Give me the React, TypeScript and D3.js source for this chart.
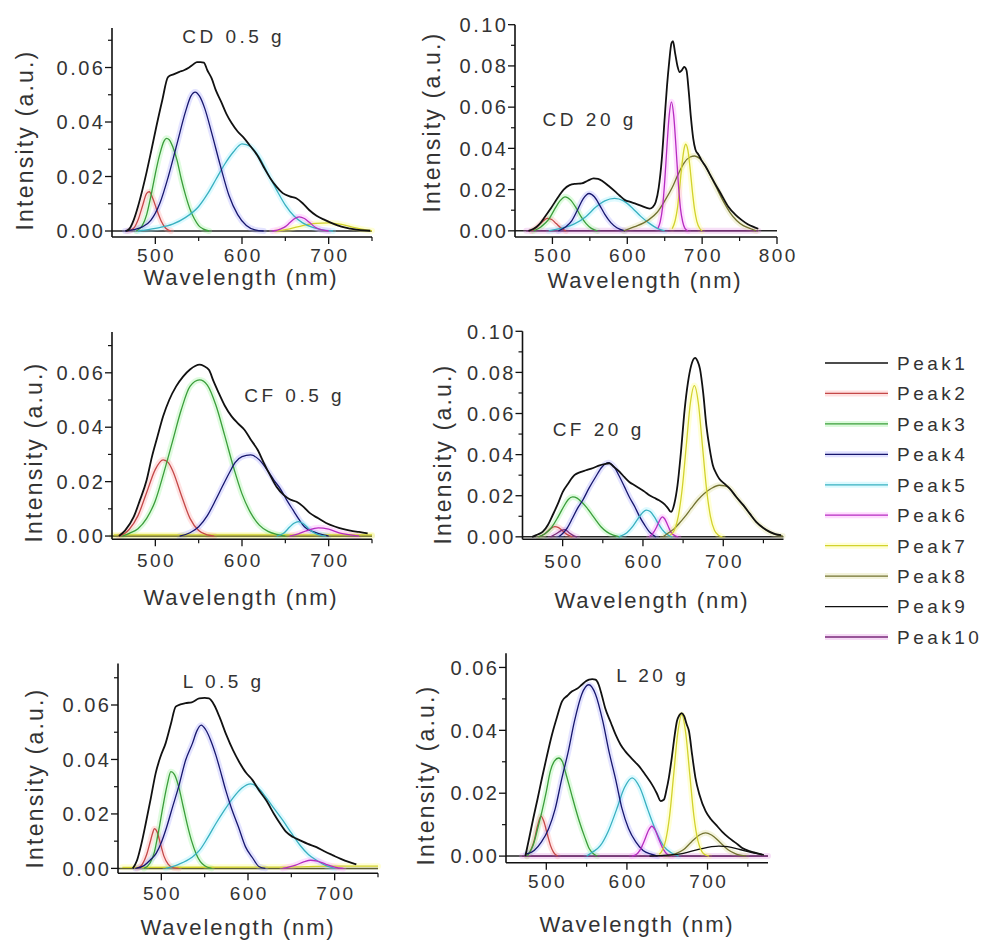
import React from "react";
import * as d3 from "d3";

type Pt = [number, number];

// ---------- legend ----------
const peakNames = ["Peak1", "Peak2", "Peak3", "Peak4", "Peak5", "Peak6", "Peak7", "Peak8", "Peak9", "Peak10"];

// ---------- CD 0.5 g ----------
const cd05Peak1: Pt[] = [[466,0],[470,0.0008],[475,0.004],[480,0.009],[485,0.015],[490,0.0217],[495,0.029],[501.5,0.0388],[508,0.048],[514.6,0.0565],[521,0.0575],[527.7,0.0584],[533,0.059],[539,0.060],[544,0.0612],[548,0.062],[552,0.062],[556,0.0618],[560,0.059],[565,0.056],[570,0.0515],[576,0.0474],[582,0.043],[588,0.0396],[595,0.0365],[602.6,0.034],[610,0.031],[617.6,0.0278],[625,0.0235],[632.6,0.0194],[640,0.0162],[647,0.0139],[655,0.0127],[662.6,0.012],[670,0.0102],[677.5,0.0077],[686,0.0056],[696,0.004],[705,0.0027],[714.6,0.0016],[725,0.0009],[737,0.0003],[748,0.0001]];
const cd05Peak2: Pt[] = [[468,0],[475,0.001],[480,0.004],[485,0.009],[490,0.0138],[493,0.0144],[497,0.012],[502,0.0075],[507,0.0035],[512,0.001],[518,0]];
const cd05Peak3: Pt[] = [[478,0],[485,0.002],[490,0.006],[495,0.013],[500,0.021],[505,0.028],[510,0.033],[513,0.034],[516,0.0335],[520,0.031],[525,0.026],[530,0.019],[535,0.013],[540,0.008],[545,0.0045],[550,0.002],[555,0.0008],[562,0]];
const cd05Peak4: Pt[] = [[465,0],[475,0.0005],[485,0.0015],[495,0.004],[505,0.010],[515,0.020],[525,0.032],[535,0.044],[541,0.0495],[546,0.051],[551,0.0495],[557,0.045],[565,0.036],[575,0.024],[585,0.013],[595,0.006],[605,0.002],[615,0.0004],[625,0]];
const cd05Peak5: Pt[] = [[480,0],[500,0.001],[520,0.0025],[535,0.005],[550,0.009],[560,0.0135],[570,0.019],[580,0.0245],[590,0.029],[600,0.032],[610,0.031],[620,0.027],[630,0.021],[640,0.015],[650,0.0095],[660,0.0055],[670,0.003],[680,0.0015],[690,0.0006],[705,0]];
const cd05Peak6: Pt[] = [[635,0],[645,0.0008],[650,0.0016],[655,0.003],[660,0.0044],[666,0.0052],[672,0.0046],[678,0.0031],[685,0.0013],[692,0.0004],[700,0]];
const cd05Peak7: Pt[] = [[640,0],[655,0.0008],[670,0.002],[685,0.0028],[700,0.003],[715,0.0024],[730,0.0012],[745,0.0003],[750,0.0001]];

// ---------- CD 20 g ----------
const cd20Peak1: Pt[] = [[468,0],[475,0.001],[482,0.003],[490,0.0068],[498,0.011],[508,0.0165],[515,0.020],[523,0.0222],[531,0.0228],[539,0.023],[547,0.0243],[555,0.0254],[561,0.0252],[568,0.0238],[576,0.0215],[584,0.019],[590,0.017],[597,0.0149],[604,0.014],[610,0.0133],[618,0.0122],[625,0.0112],[630,0.0108],[634,0.0115],[638,0.014],[642,0.021],[646,0.0343],[650,0.055],[653,0.070],[656,0.082],[659,0.091],[661,0.092],[664,0.086],[667,0.080],[670,0.077],[673,0.078],[676,0.0795],[679,0.078],[682,0.068],[685,0.055],[688,0.045],[691,0.0395],[695,0.037],[699,0.0343],[705,0.031],[711,0.027],[717,0.023],[725,0.018],[735,0.0117],[744,0.008],[753,0.0052],[761,0.0032],[768,0.002],[775,0.001]];
const cd20Peak2: Pt[] = [[472,0],[480,0.002],[487,0.0045],[493,0.006],[499,0.0055],[505,0.0035],[511,0.0015],[518,0]];
const cd20Peak3: Pt[] = [[475,0],[485,0.002],[495,0.0055],[503,0.0105],[510,0.0145],[517,0.0165],[524,0.015],[531,0.0115],[538,0.007],[545,0.0035],[552,0.0012],[560,0]];
const cd20Peak4: Pt[] = [[508,0],[518,0.002],[526,0.005],[534,0.0105],[541,0.0155],[549,0.0181],[556,0.0165],[563,0.0125],[570,0.008],[578,0.004],[586,0.0015],[597,0]];
const cd20Peak5: Pt[] = [[495,0],[515,0.0015],[530,0.0035],[545,0.007],[558,0.0115],[570,0.0145],[583,0.0157],[595,0.0145],[607,0.011],[618,0.007],[630,0.0035],[640,0.0012],[650,0]];
const cd20Peak6: Pt[] = [[641,0.0012],[644,0.0044],[647,0.011],[650,0.024],[653,0.041],[656,0.056],[659,0.0626],[662,0.056],[665,0.041],[668,0.024],[671,0.011],[674,0.0044],[677,0.0012],[681,0]];
const cd20Peak7: Pt[] = [[660,0.001],[664,0.005],[667,0.011],[670,0.021],[673,0.032],[676,0.040],[678,0.042],[681,0.039],[684,0.030],[687,0.019],[690,0.010],[693,0.0045],[697,0.001],[700,0]];
const cd20Peak8: Pt[] = [[595,0],[610,0.002],[628,0.0052],[640,0.009],[650,0.0145],[660,0.021],[668,0.0275],[676,0.033],[684,0.0358],[690,0.0363],[697,0.035],[705,0.031],[712,0.026],[719,0.021],[728,0.0145],[737,0.009],[746,0.005],[755,0.0025],[765,0.001],[772,0]];
const cd20Peak10: Pt[] = [[465,0],[775,0]];

// ---------- CF 0.5 g ----------
const cf05Peak1: Pt[] = [[458,0],[465,0.002],[475,0.007],[482,0.013],[490,0.0206],[496,0.029],[502,0.036],[509,0.044],[516,0.050],[524,0.055],[532,0.0586],[540,0.0612],[546,0.0625],[551,0.063],[556,0.0625],[562,0.061],[567,0.057],[573,0.0527],[580,0.048],[588,0.044],[595,0.0415],[603,0.039],[610,0.0355],[618,0.0317],[625,0.027],[633,0.022],[640,0.018],[648,0.0151],[655,0.0135],[663,0.0126],[670,0.011],[678,0.0085],[688,0.0065],[697,0.0048],[707,0.0035],[716,0.0026],[725,0.002],[735,0.0015],[745,0.001]];
const cf05Peak2: Pt[] = [[458,0],[465,0.001],[470,0.0025],[480,0.0075],[490,0.016],[500,0.0245],[509,0.028],[515,0.027],[520,0.024],[530,0.015],[540,0.0065],[550,0.002],[560,0.0004],[568,0]];
const cf05Peak3: Pt[] = [[462,0],[470,0.001],[480,0.0027],[490,0.0065],[500,0.013],[510,0.0235],[520,0.035],[530,0.0465],[540,0.055],[551,0.0574],[560,0.0555],[570,0.048],[580,0.037],[590,0.0255],[600,0.0155],[610,0.0085],[620,0.004],[630,0.0017],[640,0.0006],[650,0]];
const cf05Peak4: Pt[] = [[528,0],[540,0.0012],[550,0.0034],[560,0.0075],[570,0.0135],[577,0.018],[585,0.023],[592,0.027],[600,0.0292],[610,0.0298],[620,0.028],[629,0.0243],[637,0.0205],[645,0.017],[652,0.013],[660,0.009],[666,0.006],[672,0.0034],[683,0.0015],[695,0.0003],[700,0]];
const cf05Peak5: Pt[] = [[640,0],[648,0.001],[655,0.0033],[660,0.0047],[665,0.0053],[670,0.0047],[676,0.003],[683,0.0012],[690,0.0003],[697,0]];
const cf05Peak6: Pt[] = [[655,0],[665,0.0008],[675,0.002],[688,0.003],[700,0.0025],[712,0.0012],[725,0.0004],[735,0]];
const cf05Peak7: Pt[] = [[452,0.0004],[750,0.0004]];
const cf05Peak8: Pt[] = [[450,0],[750,0]];

// ---------- CF 20 g ----------
const cf20Peak1: Pt[] = [[462,0],[468,0.001],[475,0.0024],[482,0.006],[487.5,0.0105],[494,0.016],[500,0.0218],[507,0.026],[514.6,0.030],[522,0.0315],[529,0.0324],[538,0.0335],[546,0.0348],[552,0.0354],[558,0.0358],[564,0.034],[571,0.0316],[577,0.029],[583,0.0267],[590,0.025],[596,0.0235],[602,0.022],[608,0.0202],[614,0.019],[620,0.0178],[627,0.0158],[631,0.014],[635,0.0121],[639,0.016],[643,0.025],[647,0.040],[652,0.0623],[656,0.075],[660,0.0833],[665,0.0871],[668,0.0855],[671,0.0817],[675,0.070],[679,0.054],[683,0.043],[687,0.0348],[691,0.031],[695,0.0283],[701,0.026],[708,0.0235],[716,0.0195],[725,0.0154],[733,0.0113],[741,0.0073],[750,0.0043],[758,0.0024],[765,0.0013],[772,0.0008]];
const cf20Peak2: Pt[] = [[470,0],[478,0.0015],[485,0.004],[490,0.005],[495,0.0045],[501,0.0025],[507,0.0008],[512,0]];
const cf20Peak3: Pt[] = [[470,0],[478,0.0015],[486,0.0045],[494,0.0095],[501,0.0145],[507,0.0182],[512.5,0.0194],[518,0.0188],[524,0.0168],[530,0.0142],[536,0.011],[542,0.0078],[548,0.0048],[555,0.0024],[563,0.0008],[571,0]];
const cf20Peak4: Pt[] = [[495,0],[500,0.0016],[506,0.0045],[512,0.0089],[518,0.0135],[525,0.0178],[533,0.0238],[541,0.0291],[549,0.034],[557,0.0361],[564,0.034],[571,0.0291],[577,0.0243],[583,0.0194],[590,0.0145],[596,0.0097],[602,0.0058],[608,0.0024],[616,0]];
const cf20Peak5: Pt[] = [[570,0],[580,0.002],[588,0.0055],[595,0.0095],[600,0.012],[604,0.013],[609,0.0123],[614,0.0098],[619,0.0065],[624,0.0035],[630,0.0012],[636,0]];
const cf20Peak6: Pt[] = [[608,0],[613,0.002],[617,0.0048],[621,0.0082],[624,0.0097],[627,0.0088],[631,0.0055],[635,0.0022],[640,0.0005],[644,0]];
const cf20Peak7: Pt[] = [[634,0.0008],[639,0.0032],[644,0.010],[649,0.0239],[654,0.0446],[659,0.065],[664,0.0736],[669,0.065],[674,0.0446],[679,0.0239],[684,0.010],[689,0.0032],[694,0.0008],[699,0]];
const cf20Peak8: Pt[] = [[625,0],[632,0.002],[639,0.004],[645,0.0065],[652,0.0097],[660,0.0138],[668,0.0178],[676,0.021],[685,0.0235],[695,0.0251],[702,0.0248],[709,0.0232],[716,0.0195],[725,0.0152],[733,0.0112],[741,0.0072],[750,0.0042],[758,0.0022],[766,0.001],[774,0.0004]];
const cf20Peak10: Pt[] = [[485,0],[492,0.0015],[498,0.003],[503,0.0035],[508,0.002],[514,0.0005],[518,0]];

// ---------- L 0.5 g ----------
const l05Peak1: Pt[] = [[467,0],[472,0.003],[477,0.009],[482,0.0165],[488,0.026],[493.5,0.035],[499,0.041],[505,0.046],[511,0.053],[516.6,0.0594],[522,0.0602],[528,0.0607],[535,0.061],[543.7,0.0624],[550,0.0626],[555,0.0624],[561,0.060],[567,0.0557],[575,0.049],[582.7,0.0434],[590,0.039],[598,0.035],[605,0.0325],[613,0.0285],[621,0.025],[630,0.020],[637,0.0165],[644,0.0134],[652,0.0115],[660,0.0103],[669,0.009],[679,0.0078],[688,0.0063],[698,0.0048],[707,0.0035],[717,0.0023],[725,0.0015]];
const l05Peak2: Pt[] = [[472,0],[478,0.0015],[483,0.005],[487,0.0095],[490,0.013],[492,0.0146],[495,0.0135],[499,0.009],[503,0.0045],[508,0.0015],[514,0.0002],[520,0]];
const l05Peak3: Pt[] = [[480,0],[487,0.002],[492,0.006],[497,0.014],[502,0.023],[507,0.031],[511,0.0355],[515,0.0345],[520,0.030],[525,0.023],[530,0.016],[535,0.010],[540,0.0055],[545,0.0025],[550,0.001],[558,0]];
const l05Peak4: Pt[] = [[470,0],[480,0.001],[487,0.003],[494,0.0055],[500,0.0095],[506,0.015],[513,0.0226],[520,0.030],[528,0.0397],[536,0.046],[541,0.0505],[546,0.0526],[551,0.051],[557,0.047],[563,0.0415],[568,0.036],[574,0.029],[581,0.022],[589,0.0152],[597,0.008],[605,0.004],[613,0.0006],[620,0]];
const l05Peak5: Pt[] = [[505,0],[520,0.0015],[535,0.004],[544,0.0066],[553,0.011],[563,0.0165],[573,0.0215],[583,0.026],[593,0.0295],[603,0.031],[612,0.0295],[621,0.026],[630,0.022],[640,0.0177],[650,0.013],[660,0.0085],[670,0.005],[679,0.003],[690,0.001],[700,0]];
const l05Peak6: Pt[] = [[640,0],[655,0.0012],[665,0.0025],[672,0.003],[680,0.0027],[690,0.0015],[700,0.0005],[710,0]];
const l05Peak7: Pt[] = [[455,0.0004],[640,0.0005],[700,0.0008],[750,0.0008]];

// ---------- L 20 g ----------
const l20Peak1: Pt[] = [[474,0],[479,0.006],[484,0.0122],[489,0.018],[494.7,0.0249],[500,0.031],[507,0.0386],[513,0.044],[519.5,0.0492],[526,0.051],[532,0.0524],[538,0.0532],[544,0.0545],[549,0.0556],[553,0.0561],[557,0.0563],[561,0.0561],[565,0.0545],[569,0.051],[573,0.0471],[580,0.0425],[586,0.0386],[592,0.0355],[598,0.0333],[606,0.031],[615,0.0286],[623,0.0258],[631,0.0228],[637,0.020],[642,0.0175],[646,0.018],[649,0.021],[652,0.0249],[656,0.032],[659,0.038],[662,0.0429],[665,0.0448],[668,0.0455],[671,0.0445],[674,0.042],[677,0.0397],[681,0.032],[685,0.0249],[690,0.0195],[697.6,0.0143],[704,0.0118],[710,0.0101],[718,0.0078],[726.6,0.0058],[735,0.0042],[743,0.0026],[752,0.0016],[760,0.001],[768,0.0005]];
const l20Peak2: Pt[] = [[476,0],[481,0.002],[485,0.005],[489,0.0095],[493.4,0.0127],[497,0.011],[501,0.0072],[505,0.0035],[509,0.0012],[514,0]];
const l20Peak3: Pt[] = [[476,0],[480,0.0015],[484,0.0037],[489,0.0085],[494.7,0.0143],[500,0.0205],[505,0.027],[510,0.0302],[515.4,0.0312],[520,0.030],[524,0.0265],[528,0.0228],[532,0.019],[536,0.0153],[541,0.011],[548,0.0058],[553,0.0025],[558,0.0008],[563,0]];
const l20Peak4: Pt[] = [[475,0.0006],[485,0.0018],[494,0.0045],[503,0.0088],[511,0.015],[519,0.0244],[527,0.033],[535,0.043],[544,0.0515],[552.7,0.0545],[561,0.0515],[570,0.043],[578,0.033],[586,0.0244],[594,0.015],[602,0.0088],[611,0.0045],[620,0.0018],[630,0.0006],[638,0]];
const l20Peak5: Pt[] = [[550,0],[557,0.0012],[567,0.0033],[577,0.008],[587,0.0147],[597,0.0218],[606.5,0.0249],[616,0.0218],[626,0.0147],[636,0.008],[646,0.003],[656,0.0009],[664,0]];
const l20Peak6: Pt[] = [[606,0],[612,0.0006],[617,0.0022],[622,0.0051],[627,0.0083],[631,0.0095],[635,0.0083],[640,0.0051],[645,0.0022],[650,0.0006],[656,0]];
const l20Peak7: Pt[] = [[640,0.0006],[643,0.0014],[648,0.0049],[653,0.0129],[658,0.0259],[663,0.039],[668,0.045],[673,0.039],[678,0.0259],[683,0.0129],[688,0.0049],[693,0.0014],[698,0.0003],[702,0]];
const l20Peak8: Pt[] = [[648,0],[660,0.0007],[670,0.002],[680,0.0045],[690,0.0067],[697.6,0.0074],[705,0.0067],[715,0.0045],[725,0.0021],[735,0.0007],[748,0]];
const l20Peak9: Pt[] = [[628,0],[650,0.0003],[670,0.0009],[690,0.0022],[705,0.003],[714,0.0032],[725,0.003],[740,0.0021],[755,0.0011],[770,0.0004]];
const l20Peak10: Pt[] = [[470,0],[775,0]];

// ---------- styling ----------
const peakStroke = ["#111111", "#c44848", "#3a9e3a", "#16166e", "#38b0c0", "#b62cc0", "#d2d22c", "#727230", "#111111", "#7a2a7a"];
const peakGlow = ["none", "#ff9a9a", "#8cf08c", "#9a9aff", "#8ceeff", "#ff8cff", "#ffff70", "#d6d68a", "none", "#e08ce0"];
const FONT = "'Liberation Sans', Arial, Helvetica, sans-serif";
const TEXT = "#333333";

interface Series { peak: number; pts: Pt[] }
interface PanelSpec {
  title: string;
  titleX: number; titleY: number;
  xDomain: [number, number]; xRange: [number, number];
  yDomain: [number, number]; yRange: [number, number];
  xMajor: number[]; xMinor: number[];
  yMajor: number[]; yMinor: number[];
  xTickDy: number;
  xLabelX: number; xLabelY: number;
  yLabelX: number; yLabelY: number;
  series: Series[];
}

const panels: PanelSpec[] = [
  {
    title: "CD 0.5 g", titleX: 232, titleY: 43,
    xDomain: [450, 750], xRange: [112, 372],
    yDomain: [-0.0022, 0.0745], yRange: [237, 28],
    xMajor: [500, 600, 700], xMinor: [550, 650, 750],
    yMajor: [0, 0.02, 0.04, 0.06], yMinor: [0.01, 0.03, 0.05, 0.07],
    xTickDy: 25,
    xLabelX: 241, xLabelY: 285, yLabelX: 25, yLabelY: 140,
    series: [
      { peak: 6, pts: cd05Peak7 }, { peak: 1, pts: cd05Peak2 }, { peak: 2, pts: cd05Peak3 },
      { peak: 4, pts: cd05Peak5 }, { peak: 3, pts: cd05Peak4 }, { peak: 5, pts: cd05Peak6 },
      { peak: 0, pts: cd05Peak1 },
    ],
  },
  {
    title: "CD 20 g", titleX: 588, titleY: 126,
    xDomain: [450, 800], xRange: [515, 777],
    yDomain: [-0.003, 0.1], yRange: [237, 24.7],
    xMajor: [500, 600, 700, 800], xMinor: [550, 650, 750],
    yMajor: [0, 0.02, 0.04, 0.06, 0.08, 0.1], yMinor: [0.01, 0.03, 0.05, 0.07, 0.09],
    xTickDy: 25,
    xLabelX: 645, xLabelY: 288, yLabelX: 432, yLabelY: 122,
    series: [
      { peak: 9, pts: cd20Peak10 }, { peak: 1, pts: cd20Peak2 }, { peak: 2, pts: cd20Peak3 },
      { peak: 4, pts: cd20Peak5 }, { peak: 3, pts: cd20Peak4 }, { peak: 7, pts: cd20Peak8 },
      { peak: 6, pts: cd20Peak7 }, { peak: 5, pts: cd20Peak6 }, { peak: 0, pts: cd20Peak1 },
    ],
  },
  {
    title: "CF 0.5 g", titleX: 293, titleY: 402,
    xDomain: [450, 750], xRange: [112, 372],
    yDomain: [-0.0012, 0.075], yRange: [539.3, 332],
    xMajor: [500, 600, 700], xMinor: [550, 650, 750],
    yMajor: [0, 0.02, 0.04, 0.06], yMinor: [0.01, 0.03, 0.05, 0.07],
    xTickDy: 28,
    xLabelX: 241, xLabelY: 605, yLabelX: 34, yLabelY: 452,
    series: [
      { peak: 7, pts: cf05Peak8 }, { peak: 6, pts: cf05Peak7 }, { peak: 1, pts: cf05Peak2 },
      { peak: 2, pts: cf05Peak3 }, { peak: 3, pts: cf05Peak4 }, { peak: 4, pts: cf05Peak5 },
      { peak: 5, pts: cf05Peak6 }, { peak: 0, pts: cf05Peak1 },
    ],
  },
  {
    title: "CF 20 g", titleX: 597, titleY: 436,
    xDomain: [450, 775], xRange: [522.5, 783.5],
    yDomain: [-0.0012, 0.1], yRange: [539.3, 331.3],
    xMajor: [500, 600, 700], xMinor: [550, 650, 750],
    yMajor: [0, 0.02, 0.04, 0.06, 0.08, 0.1], yMinor: [0.01, 0.03, 0.05, 0.07, 0.09],
    xTickDy: 29,
    xLabelX: 652, xLabelY: 608, yLabelX: 443, yLabelY: 454,
    series: [
      { peak: 1, pts: cf20Peak2 }, { peak: 9, pts: cf20Peak10 }, { peak: 2, pts: cf20Peak3 },
      { peak: 3, pts: cf20Peak4 }, { peak: 4, pts: cf20Peak5 }, { peak: 5, pts: cf20Peak6 },
      { peak: 7, pts: cf20Peak8 }, { peak: 6, pts: cf20Peak7 }, { peak: 0, pts: cf20Peak1 },
    ],
  },
  {
    title: "L 0.5 g", titleX: 222, titleY: 688,
    xDomain: [450, 750], xRange: [118, 378],
    yDomain: [-0.0018, 0.0752], yRange: [873.3, 663.6],
    xMajor: [500, 600, 700], xMinor: [550, 650, 750],
    yMajor: [0, 0.02, 0.04, 0.06], yMinor: [0.01, 0.03, 0.05, 0.07],
    xTickDy: 27,
    xLabelX: 238, xLabelY: 935, yLabelX: 35, yLabelY: 778,
    series: [
      { peak: 6, pts: l05Peak7 }, { peak: 1, pts: l05Peak2 }, { peak: 2, pts: l05Peak3 },
      { peak: 4, pts: l05Peak5 }, { peak: 3, pts: l05Peak4 }, { peak: 5, pts: l05Peak6 },
      { peak: 0, pts: l05Peak1 },
    ],
  },
  {
    title: "L 20 g", titleX: 651, titleY: 682,
    xDomain: [450, 775], xRange: [506, 768],
    yDomain: [-0.0021, 0.0645], yRange: [862.7, 653.3],
    xMajor: [500, 600, 700], xMinor: [550, 650, 750],
    yMajor: [0, 0.02, 0.04, 0.06], yMinor: [0.01, 0.03, 0.05],
    xTickDy: 25,
    xLabelX: 637, xLabelY: 932, yLabelX: 426, yLabelY: 775,
    series: [
      { peak: 9, pts: l20Peak10 }, { peak: 1, pts: l20Peak2 }, { peak: 2, pts: l20Peak3 },
      { peak: 4, pts: l20Peak5 }, { peak: 3, pts: l20Peak4 }, { peak: 5, pts: l20Peak6 },
      { peak: 7, pts: l20Peak8 }, { peak: 8, pts: l20Peak9 }, { peak: 6, pts: l20Peak7 },
      { peak: 0, pts: l20Peak1 },
    ],
  },
];

const fmt = d3.format(".2f");

function Panel({ spec }: { spec: PanelSpec }) {
  const x = d3.scaleLinear().domain(spec.xDomain).range(spec.xRange);
  const y = d3.scaleLinear().domain(spec.yDomain).range(spec.yRange);
  const line = d3.line<Pt>().x((d) => x(d[0])).y((d) => y(d[1])).curve(d3.curveMonotoneX);
  const axisY = y(spec.yDomain[0]);
  const axisX = x(spec.xDomain[0]);
  const topY = y(spec.yDomain[1]);
  const rightX = x(spec.xDomain[1]);
  const tickLs = 2.5;

  return (
    <g>
      {/* zero level */}
      <line x1={axisX} x2={rightX} y1={y(0)} y2={y(0)} stroke="#222" strokeWidth={1.5} />

      {/* fitted components and measured spectrum */}
      {spec.series.map((s, i) =>
        peakGlow[s.peak] === "none" ? null : (
          <path key={"g" + i} d={line(s.pts) ?? ""} fill="none" stroke={peakGlow[s.peak]}
            strokeWidth={6} strokeOpacity={0.28} strokeLinejoin="round" strokeLinecap="round" />
        )
      )}
      {spec.series.map((s, i) => (
        <path key={"l" + i} d={line(s.pts) ?? ""} fill="none" stroke={peakStroke[s.peak]}
          strokeWidth={s.peak === 0 ? 1.8 : 1.3} strokeLinejoin="round" />
      ))}

      {/* axes */}
      <line x1={axisX} x2={axisX} y1={axisY} y2={topY} stroke="#111" strokeWidth={1.6} />
      <line x1={axisX} x2={rightX} y1={axisY} y2={axisY} stroke="#111" strokeWidth={1.6} />
      {spec.yMajor.map((v) => (
        <g key={"ym" + v}>
          <line x1={axisX - 7} x2={axisX} y1={y(v)} y2={y(v)} stroke="#111" strokeWidth={1.3} />
          <text x={axisX - 9 + tickLs} y={y(v)} dy="0.36em" textAnchor="end" fontSize={20}
            letterSpacing={tickLs} fill={TEXT} fontFamily={FONT}>{fmt(v)}</text>
        </g>
      ))}
      {spec.yMinor.map((v) => (
        <line key={"yn" + v} x1={axisX - 4} x2={axisX} y1={y(v)} y2={y(v)} stroke="#111" strokeWidth={1.2} />
      ))}
      {spec.xMajor.map((v) => (
        <g key={"xm" + v}>
          <line x1={x(v)} x2={x(v)} y1={axisY} y2={axisY + 7} stroke="#111" strokeWidth={1.3} />
          <text x={x(v) + tickLs / 2} y={axisY + spec.xTickDy} textAnchor="middle" fontSize={19}
            letterSpacing={tickLs} fill={TEXT} fontFamily={FONT}>{v}</text>
        </g>
      ))}
      {spec.xMinor.map((v) => (
        <line key={"xn" + v} x1={x(v)} x2={x(v)} y1={axisY} y2={axisY + 4} stroke="#111" strokeWidth={1.2} />
      ))}

      {/* labels */}
      <text x={spec.xLabelX} y={spec.xLabelY} textAnchor="middle" fontSize={22} letterSpacing={1.9}
        fill={TEXT} fontFamily={FONT}>Wavelength (nm)</text>
      <text transform={`translate(${spec.yLabelX},${spec.yLabelY}) rotate(-90)`} dy="0.36em"
        textAnchor="middle" fontSize={23} letterSpacing={2.2} fill={TEXT} fontFamily={FONT}>
        Intensity (a.u.)
      </text>
      <text x={spec.titleX + 1.7} y={spec.titleY} textAnchor="middle" fontSize={19} letterSpacing={3.5}
        fill={TEXT} fontFamily={FONT}>{spec.title}</text>
    </g>
  );
}

function Legend() {
  const rowY = d3.scaleLinear().domain([0, 9]).range([363, 637]);
  return (
    <g>
      {peakNames.map((name, i) => (
        <g key={name}>
          {peakGlow[i] !== "none" && (
            <line x1={825} x2={888} y1={rowY(i)} y2={rowY(i)} stroke={peakGlow[i]} strokeWidth={6} strokeOpacity={0.3} />
          )}
          <line x1={825} x2={888} y1={rowY(i)} y2={rowY(i)} stroke={peakStroke[i]} strokeWidth={1.3} />
          <text x={897} y={rowY(i)} dy="0.36em" fontSize={19} letterSpacing={3.5} fill={TEXT} fontFamily={FONT}>
            {name}
          </text>
        </g>
      ))}
    </g>
  );
}

export default function App() {
  return (
    <div style={{ position: "absolute", left: 0, top: 0, width: 984, height: 941, background: "#fff" }}>
      <svg width={984} height={941} viewBox="0 0 984 941" style={{ display: "block" }}>
        <rect width={984} height={941} fill="#fff" />
        {panels.map((p) => (
          <Panel key={p.title} spec={p} />
        ))}
        <Legend />
      </svg>
    </div>
  );
}
